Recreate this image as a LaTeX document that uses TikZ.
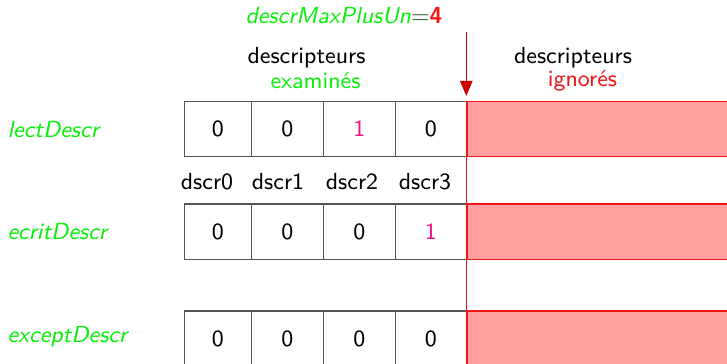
\documentclass[tikz,border=0pt]{standalone}
\usetikzlibrary{arrows.meta}
\definecolor{vert}{RGB}{10,240,10}
\definecolor{vertfonce}{RGB}{40,90,40}
\definecolor{rose}{RGB}{235,20,140}
\definecolor{rouge}{RGB}{240,20,20}
\definecolor{rougefleche}{RGB}{205,0,0}
\definecolor{rougefond}{RGB}{255,160,160}
\definecolor{bord}{RGB}{85,85,85}
\begin{document}
\begin{tikzpicture}[x=0.4pt,y=-0.4pt,
  font=\sffamily\fontsize{9.3}{11}\selectfont,
  cell/.style={draw=bord,line width=0.5pt,minimum height=55.2*0.4pt,inner sep=0pt,anchor=center},
  ignore/.style={draw=rouge,fill=rougefond,line width=0.5pt,minimum height=55.2*0.4pt,minimum width=270*0.4pt,inner sep=0pt,anchor=west},
  nomvar/.style={text=vert,font=\sffamily\itshape\fontsize{9.3}{11}\selectfont,anchor=west,inner sep=0pt},
  un/.style={text=rose},
  etiq/.style={anchor=center,inner sep=0pt}]
\useasboundingbox (0,0) rectangle (727,364);
\clip (0,0) rectangle (727,364);

% titre
\node[anchor=west,inner sep=0pt] (max) at (245,16)
  {\textcolor{vert}{\itshape descrMaxPlusUn}\textcolor{vertfonce}{=}\textcolor{rouge}{\bfseries 4}};

% en-tetes des deux zones
\node[etiq] (exam1) at (306.5,58) {descripteurs};
\node[etiq,text=vert] (exam2) at (315.5,81) {examinés};
\node[etiq] (ign1) at (573,58) {descripteurs};
\node[etiq,text=rouge] (ign2) at (582.5,81) {ignorés};

% noms des ensembles
\node[nomvar] (lect) at (7,130) {lectDescr};
\node[nomvar] (ecrit) at (7,232) {ecritDescr};
\node[nomvar] (except) at (7,337) {exceptDescr};

% ligne lectDescr
\node[cell,minimum width=66.8*0.4pt] (l0) at (217.9,129.1) {0};
\node[cell,minimum width=72.3*0.4pt] (l1) at (287.45,129.1) {0};
\node[cell,minimum width=71.7*0.4pt,un] (l2) at (359.45,129.1) {1};
\node[cell,minimum width=71.0*0.4pt] (l3) at (430.8,129.1) {0};
\node[ignore] (lz) at (466.3,129.1) {};

% indices
\node[etiq] (d0) at (207,182) {dscr0};
\node[etiq] (d1) at (278,182) {dscr1};
\node[etiq] (d2) at (352,182) {dscr2};
\node[etiq] (d3) at (425,182) {dscr3};

% ligne ecritDescr
\node[cell,minimum width=66.8*0.4pt] (e0) at (217.9,231.7) {0};
\node[cell,minimum width=72.3*0.4pt] (e1) at (287.45,231.7) {0};
\node[cell,minimum width=71.7*0.4pt] (e2) at (359.45,231.7) {0};
\node[cell,minimum width=71.0*0.4pt,un] (e3) at (430.8,231.7) {1};
\node[ignore] (ez) at (466.3,231.7) {};

% ligne exceptDescr
\node[cell,minimum width=66.8*0.4pt] (x0) at (217.9,338.6) {0};
\node[cell,minimum width=72.3*0.4pt] (x1) at (287.45,338.6) {0};
\node[cell,minimum width=71.7*0.4pt] (x2) at (359.45,338.6) {0};
\node[cell,minimum width=71.0*0.4pt] (x3) at (430.8,338.6) {0};
\node[ignore] (xz) at (466.3,338.6) {};

% limite descrMaxPlusUn
\coordinate (haut) at (466.3,32);
\draw[rougefleche,line width=0.6pt,-{Triangle[length=6pt,width=5pt]},shorten >=2pt] (haut) -- (lz.north west);
\draw[rouge,line width=0.6pt] (lz.south west) -- (xz.north west);
\end{tikzpicture}
\end{document}
